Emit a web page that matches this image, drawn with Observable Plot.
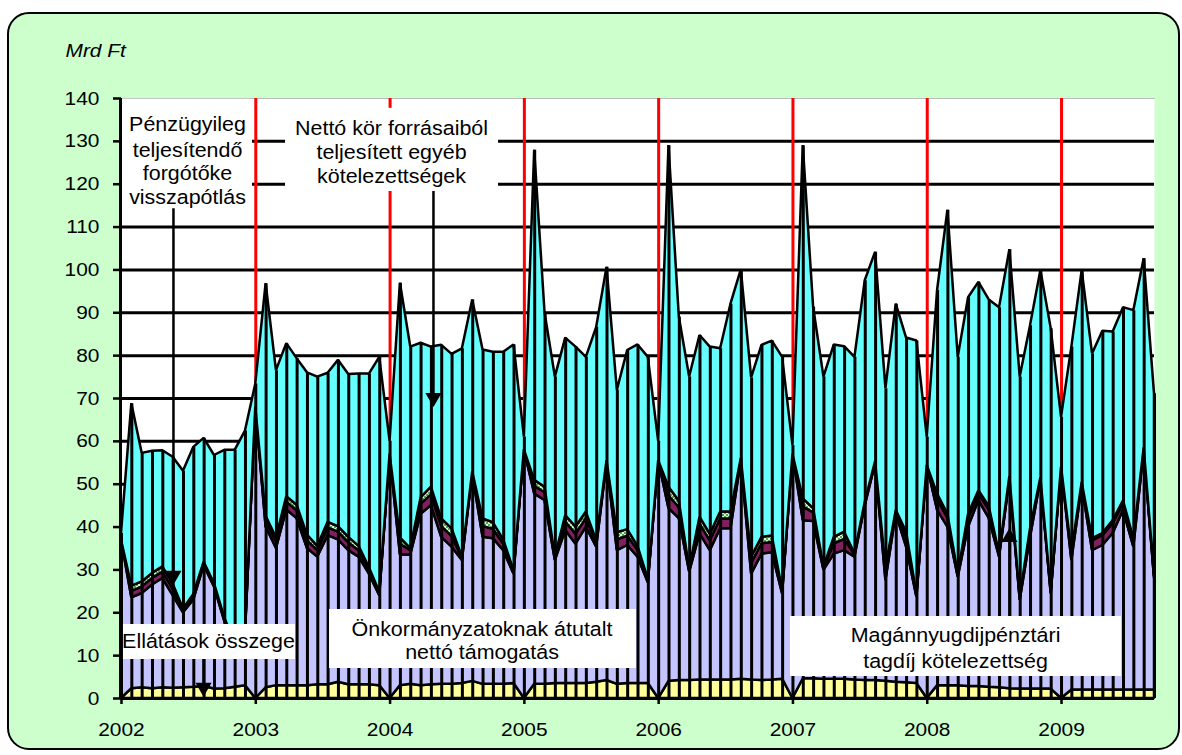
<!DOCTYPE html>
<html><head><meta charset="utf-8">
<script src="https://cdn.jsdelivr.net/npm/d3@7"></script>
<script src="https://cdn.jsdelivr.net/npm/@observablehq/plot@0.6"></script>
<style>
html,body{margin:0;padding:0;background:#fff;}
#wrap{position:relative;width:1182px;height:755px;overflow:hidden;}
#bg{position:absolute;left:7px;top:12px;width:1173px;height:738px;background:#ccffcc;border:2px solid #000;border-radius:22px;box-sizing:border-box;}
#chart{position:absolute;left:0;top:0;}
</style></head><body>
<div id="wrap"><div id="bg"></div><div id="chart"></div></div>
<script>
// 13 points per year (year-opening point + 12 months); index 0 = 2002
const years = [2002, 2003, 2004, 2005, 2006, 2007, 2008, 2009];
const perYear = 13;

const yellow = [
0,2.3,2.5,2.3,2.5,2.4,2.5,2.6,2.8,2.2,2.3,2.6,3.0,
0,2.5,3,3,3,3,3.2,3.2,3.8,3.2,3.2,3.2,3,
0,3,3.3,3,3.2,3.3,3.3,3.5,4,3.3,3.3,3.3,3.5,
0,3.3,3.3,3.5,3.5,3.5,3.5,3.8,4.2,3.3,3.5,3.5,3.5,
0,4,4.2,4.2,4.3,4.3,4.3,4.3,4.5,4.3,4.2,4.3,4.5,
0,4.6,4.6,4.5,4.5,4.5,4.3,4.2,4.2,4,3.8,3.7,3.5,
0,3,3,3,2.8,2.8,2.6,2.5,2.3,2.2,2.2,2.2,2.2,
0,2,2,2,2,2,2,2,2,2];

const lavender = [
37,21.2,22,24.2,25.5,21.6,17.5,20.4,28.2,23.8,15.7,9.4,12,
68,37.5,32,41,39,32,29.8,34.8,33.2,31.3,29.8,25.8,21,
57,30.5,30.2,40,41.8,34.3,32,28.7,48.4,34.3,34,31.2,25.5,
58,44.4,42.9,28.7,35.7,32.5,36.5,31.5,50.8,31.2,32.2,29.5,23.5,
55.5,40.3,37.8,25.3,34.1,30.2,35.3,35.3,51,24.7,29.5,29.7,19.9,
57,36.9,36.7,25.4,29.2,30,28.7,40.8,50.6,23.5,39.3,31.6,20.1,
54.4,40.9,37,25.3,37.2,43.4,39.4,30.5,48.7,20.7,35.4,48.8,22.2,
54,30.2,47.6,32.5,33.7,36.5,41.9,33.3,56,26];

const maroon = [
0,1.5,1.5,1.5,1.5,1.5,0.6,0.8,0.5,0.5,0.5,0.5,0.5,
0,1.5,1.5,1.8,1.8,1.8,1.5,1.8,1.8,1.8,1.5,1,0.5,
0,2.5,1,2.3,2.5,2.5,2.5,0.5,0.3,2.5,2.2,1.5,0.5,
0,1.8,1.8,0.5,2,2.3,2,1,0.3,2.5,2.2,1.5,0.5,
0,3,2.5,0.5,2.3,2.3,2.3,2.3,0.3,2.5,2.4,2.4,0.5,
0,3.2,2,0.5,2.4,2.6,0.5,0.5,0.3,2,0.5,2.2,0.5,
0,2.5,2,0.5,2,1.5,2,0.5,0.5,0.5,1.5,0.3,0.5,
0,1.5,0.5,2.3,2.3,2.3,1.5,1.5,0.3,0.5];

const green = [
0,1.2,1.2,1.2,1.2,1.2,0.3,0.5,0.3,0.3,0.3,0.3,0.3,
0,1,1,1.3,1.3,1.3,1,1.3,1.3,1.3,1,0.5,0.3,
0,1.5,0.5,1.5,1.8,1.8,1.8,0.3,0.2,1.8,1.5,1,0.3,
0,1.4,1.3,0.3,1.5,1.7,1.5,0.5,0.2,1.7,1.5,1,0.3,
0,2,1.5,0.3,1.6,1.5,1.6,1.6,0.2,1.5,1.5,1.5,0.3,
0,1.9,1,0.3,1.5,1.7,0.3,0.3,0.2,1,0.3,1.3,0.3,
0,1.3,1,0.3,1,0.8,0.8,0.3,0.3,0.3,0.5,0.2,0.3,
0,0.5,0.3,0.5,0.5,0.7,0.7,0.5,0.2,0.3];

const cyan = [
1.5,42.6,30,28.5,27.1,29.6,32.1,34.3,28.9,29.9,39.1,45.1,46.6,
5.4,54.3,39,35.7,34.2,37.9,39.5,34.8,38.8,38,40.2,45.2,54.8,
3,59.4,47,36.1,32.7,40.5,40.7,48.6,40.1,39.4,39.8,43.8,52.7,
3,77,40.7,42,41.4,42,36.1,49.8,45.1,33.2,41.8,47,51.8,
4.5,79.7,43,44.7,42.4,43.7,38.1,48.5,44,41.8,44.8,45.5,54.4,
2,82.4,47,44.3,44.9,43.3,45.8,51.7,48.8,41.8,48.1,45.3,59,
6.6,47.5,70.9,50.5,50.5,48.6,48.2,57.4,52.9,51.3,47.4,48.4,61.1,
11.6,47.8,49.5,43.1,47.2,44,45.1,53.2,44.1,42.3];

const seriesNames = [
  "Ellátások összege",
  "Önkormányzatoknak átutalt nettó támogatás",
  "Magánnyugdijpénztári tagdíj kötelezettség",
  "Pénzügyileg teljesítendő forgótőke visszapótlás",
  "Nettó kör forrásaiból teljesített egyéb kötelezettségek"
];
const seriesValues = [yellow, lavender, maroon, green, cyan];
const seriesFills = ["#ffff99", "#c4c4ff", "#80205f", "url(#hatchGreen)", "#66ffff"];

const yTicks = d3.range(0, 141, 10);
const gridVals = d3.range(10, 140, 10);

// annotation boxes and texts (data coordinates: x = point index, y = Mrd Ft)
const boxes = [
  {x1: 0.1, x2: 12.68, y1: 114.3, y2: 139.8},
  {x1: 15.88, x2: 36.5, y1: 118.3, y2: 137.7},
  {x1: 0.19, x2: 16.84, y1: 9.1, y2: 17.27},
  {x1: 20.14, x2: 49.85, y1: 7.0, y2: 20.77},
  {x1: 64.76, x2: 96.8, y1: 5.13, y2: 19.13}
];
const labels = [
  {x: 6.39, y: 132.4, t: "Pénzügyileg"},
  {x: 6.39, y: 126.3, t: "teljesítendő"},
  {x: 6.39, y: 120.9, t: "forgótőke"},
  {x: 6.39, y: 115.3, t: "visszapótlás"},
  {x: 26.14, y: 131.4, t: "Nettó kör forrásaiból"},
  {x: 26.14, y: 126.0, t: "teljesített egyéb"},
  {x: 26.14, y: 120.2, t: "kötelezettségek"},
  {x: 8.42, y: 11.67, t: "Ellátások összege"},
  {x: 34.9, y: 14.47, t: "Önkormányzatoknak átutalt"},
  {x: 34.9, y: 9.33, t: "nettó támogatás"},
  {x: 80.74, y: 13.07, t: "Magánnyugdijpénztári"},
  {x: 80.74, y: 7.23, t: "tagdíj kötelezettség"}
];
const arrows = [
  {x: 5.03, y1: 114.3, y2: 28.7, up: false},
  {x: 30.2, y1: 118.3, y2: 70.2, up: false},
  {x: 7.94, y1: 9.1, y2: 2.6, up: false},
  {x: 85.96, y1: 19.13, y2: 37.6, up: true}
];

const n = yellow.length;
const idx = d3.range(n);
const rows = seriesValues.flatMap((vals, si) => vals.map((v, i) => ({i, v, s: seriesNames[si]})));
const totals = idx.map(i => d3.sum(seriesValues, vals => vals[i]));
const yearIdx = years.map((y, k) => k * perYear);

const plot = Plot.plot({
  width: 1182, height: 755,
  marginLeft: 121, marginRight: 28, marginTop: 98, marginBottom: 57,
  style: {background: "transparent", fontFamily: "'Liberation Sans', Arial, sans-serif", fontSize: "19px", color: "black", overflow: "visible"},
  x: {type: "linear", domain: [0, n - 1], label: null},
  y: {domain: [0, 140], label: null},
  color: {domain: seriesNames, range: seriesFills},
  marks: [
    Plot.frame({fill: "white", stroke: null}),
    Plot.frame({anchor: "top", stroke: "#bbbbbb", strokeWidth: 1}),
    Plot.ruleY(gridVals, {stroke: "black", strokeWidth: 3}),
    Plot.ruleX(yearIdx.slice(1), {y1: 0, y2: 140, stroke: "#ff0000", strokeWidth: 3}),
    Plot.areaY(rows, {x: "i", y: "v", z: "s", fill: "s", stroke: "black", strokeWidth: 2.5, strokeLinejoin: "miter"}),
    Plot.ruleX(idx, {x: d => d, y1: 0, y2: d => totals[d], stroke: "black", strokeWidth: 3}),
    Plot.ruleY([0], {stroke: "black", strokeWidth: 3}),
    Plot.ruleX([0], {stroke: "black", strokeWidth: 3, dx: -1}),
    Plot.axisY({ticks: yTicks, tickSize: 8, tickPadding: 14, strokeWidth: 2.5, fontSize: 19}),
    Plot.axisX({ticks: yearIdx, tickFormat: d => String(years[Math.round(d / perYear)]), tickSize: 6, tickPadding: 18, strokeWidth: 2.5, fontSize: 19}),
    Plot.rect(boxes, {x1: "x1", x2: "x2", y1: "y1", y2: "y2", fill: "white"}),
    Plot.ruleX(arrows, {x: "x", y1: "y1", y2: "y2", stroke: "black", strokeWidth: 2.5}),
    Plot.dot(arrows, {x: "x", y: "y2", symbol: "triangle", r: 6, fill: "black", stroke: null, rotate: d => d.up ? 0 : 180}),
    Plot.text(labels, {x: "x", y: "y", text: "t", fontSize: 19.5, lineAnchor: "bottom", textAnchor: "middle", fill: "black"}),
    Plot.text(["Mrd Ft"], {frameAnchor: "top-left", dx: -56, dy: -42, fontSize: 19, fontStyle: "italic", textAnchor: "start", lineAnchor: "bottom", fill: "black"})
  ]
});

// hatch pattern for the thin green layer
const ns = "http://www.w3.org/2000/svg";
const defs = document.createElementNS(ns, "defs");
defs.innerHTML = '<pattern id="hatchGreen" patternUnits="userSpaceOnUse" width="4" height="4"><rect width="4" height="4" fill="#ccffcc"/><rect x="0" y="0" width="2" height="2" fill="#5c9e5c"/><rect x="2" y="2" width="2" height="2" fill="#5c9e5c"/></pattern>';
plot.insertBefore(defs, plot.firstChild);

// slight horizontal stretch of all text, as in the original rendering
const SX = 1.1;
plot.querySelectorAll("text").forEach(t => {
  const tr = t.getAttribute("transform") || "";
  const xa = t.getAttribute("x");
  if (xa !== null && xa !== "" && !isNaN(+xa)) t.setAttribute("x", String(+xa / SX));
  t.setAttribute("transform", `${tr} scale(${SX},1)`.trim());
});

document.getElementById("chart").appendChild(plot);
</script>
</body></html>
